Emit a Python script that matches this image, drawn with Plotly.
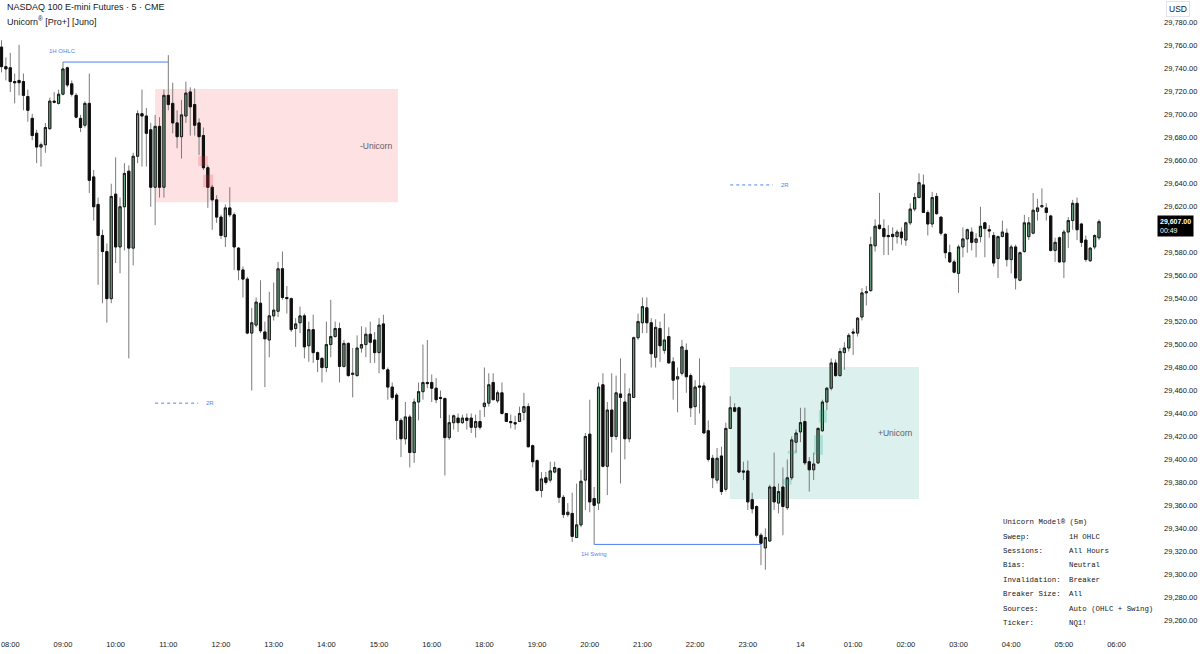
import plotly.graph_objects as go

# ---------------- data: 5-minute bars (index 0 = 07:50) ----------------
OPEN = [29759,29742,29741,29729,29730,29729,29716,29697,29684,29672,
        29674,29688,29712,29710,29718,29741,29727,29717,29697,29691,
        29710,29646,29622,29595,29581,29540,29631,29585,29620,29651,
        29584,29664,29701,29699,29687,29637,29690,29637,29717,29710,
        29693,29681,29699,29720,29709,29693,29682,29654,29637,29626,
        29611,29594,29619,29613,29584,29565,29557,29510,29517,29536,
        29511,29504,29525,29529,29566,29541,29540,29514,29519,29525,
        29499,29513,29493,29488,29480,29500,29507,29514,29481,29501,
        29474,29473,29497,29500,29509,29504,29493,29518,29478,29463,
        29456,29434,29418,29437,29406,29450,29459,29467,29467,29462,
        29454,29453,29419,29432,29436,29432,29436,29436,29428,29433,
        29446,29449,29467,29451,29458,29440,29433,29432,29433,29441,
        29446,29412,29399,29373,29384,29382,29389,29392,29367,29352,
        29353,29332,29343,29382,29422,29366,29362,29465,29394,29443,
        29420,29457,29450,29418,29454,29506,29519,29532,29519,29489,
        29514,29495,29507,29485,29470,29475,29495,29473,29446,29464,
        29464,29425,29401,29382,29403,29374,29427,29445,29445,29390,
        29390,29365,29359,29334,29323,29329,29376,29362,29376,29358,
        29384,29415,29424,29433,29398,29391,29397,29425,29450,29462,
        29484,29473,29493,29497,29511,29510,29524,29545,29547,29586,
        29604,29601,29595,29596,29594,29598,29591,29606,29618,29628,
        29639,29615,29605,29629,29611,29596,29580,29572,29562,29585,
        29592,29598,29589,29594,29606,29600,29595,29575,29594,29597,
        29574,29585,29556,29581,29594,29597,29616,29620,29619,29612,
        29582,29593,29572,29598,29608,29623,29605,29591,29573,29585,
        29593]
HIGH = [29765,29750,29754,29736,29761,29736,29722,29701,29687,29676,
        29693,29715,29720,29722,29746,29742,29730,29719,29700,29712,
        29736,29652,29628,29600,29588,29640,29663,29628,29658,29656,
        29667,29704,29722,29706,29693,29700,29698,29722,29752,29728,
        29704,29713,29729,29724,29723,29697,29689,29656,29639,29630,
        29613,29622,29637,29615,29585,29568,29559,29532,29541,29556,
        29520,29546,29554,29572,29581,29551,29541,29523,29533,29527,
        29520,29526,29494,29489,29520,29539,29520,29519,29504,29502,
        29497,29508,29516,29515,29520,29511,29523,29526,29480,29467,
        29458,29436,29450,29439,29453,29467,29500,29504,29474,29471,
        29460,29454,29439,29439,29440,29439,29440,29440,29439,29443,
        29480,29475,29475,29460,29467,29440,29439,29438,29446,29458,
        29449,29413,29400,29389,29389,29398,29398,29393,29369,29362,
        29371,29379,29391,29423,29452,29376,29467,29475,29450,29475,
        29473,29488,29475,29462,29507,29527,29541,29541,29523,29522,
        29520,29527,29515,29489,29480,29504,29501,29475,29469,29488,
        29467,29434,29404,29410,29411,29432,29455,29449,29446,29398,
        29399,29371,29360,29336,29340,29378,29406,29379,29393,29400,
        29420,29426,29445,29445,29402,29406,29428,29452,29463,29488,
        29487,29497,29502,29510,29514,29524,29549,29551,29594,29609,
        29632,29609,29604,29602,29600,29602,29607,29623,29632,29649,
        29648,29617,29633,29632,29611,29597,29587,29574,29587,29602,
        29601,29602,29597,29620,29607,29604,29598,29595,29608,29601,
        29587,29587,29581,29613,29611,29632,29627,29636,29623,29613,
        29593,29594,29600,29611,29626,29628,29606,29595,29585,29596,
        29609]
LOW = [29737,29730,29720,29710,29717,29704,29694,29678,29658,29655,
       29667,29687,29710,29709,29717,29724,29716,29697,29685,29689,
       29632,29608,29552,29536,29519,29536,29571,29562,29582,29488,
       29569,29658,29655,29655,29620,29604,29628,29628,29704,29684,
       29671,29662,29693,29682,29682,29665,29652,29619,29600,29606,
       29592,29585,29611,29565,29556,29541,29509,29460,29515,29510,
       29463,29489,29521,29524,29539,29527,29511,29498,29510,29488,
       29485,29484,29476,29467,29476,29489,29506,29467,29480,29472,
       29454,29472,29493,29489,29484,29484,29475,29478,29452,29452,
       29417,29402,29413,29393,29397,29434,29452,29462,29450,29449,
       29436,29386,29417,29426,29424,29431,29426,29423,29419,29426,
       29437,29446,29452,29449,29439,29433,29427,29426,29433,29434,
       29411,29393,29372,29367,29378,29380,29388,29362,29349,29350,
       29328,29332,29341,29356,29354,29326,29356,29393,29369,29406,
       29417,29379,29400,29415,29454,29504,29510,29510,29480,29480,
       29485,29492,29484,29452,29441,29473,29458,29437,29430,29440,
       29423,29398,29375,29379,29369,29372,29427,29441,29388,29382,
       29356,29353,29332,29308,29304,29328,29356,29353,29334,29356,
       29382,29406,29415,29395,29372,29382,29396,29424,29443,29460,
       29472,29472,29478,29494,29491,29507,29521,29534,29546,29581,
       29600,29578,29578,29582,29588,29587,29586,29604,29616,29628,
       29615,29595,29602,29613,29595,29575,29571,29562,29545,29576,
       29580,29582,29576,29589,29576,29593,29568,29558,29594,29568,
       29562,29548,29555,29580,29591,29596,29608,29619,29608,29581,
       29572,29571,29558,29584,29600,29591,29585,29572,29572,29583,
       29591]
CLOSE = [29742,29740,29729,29728,29728,29717,29704,29682,29672,29674,
         29689,29712,29711,29718,29740,29726,29718,29698,29689,29710,
         29643,29620,29595,29581,29540,29629,29585,29620,29649,29584,
         29664,29701,29699,29684,29637,29690,29637,29717,29709,29693,
         29681,29700,29719,29707,29691,29681,29654,29637,29626,29611,
         29595,29619,29613,29585,29565,29557,29510,29519,29537,29512,
         29505,29525,29530,29566,29541,29540,29513,29518,29525,29498,
         29513,29493,29487,29480,29500,29507,29514,29481,29501,29473,
         29475,29497,29500,29509,29502,29493,29517,29479,29463,29454,
         29434,29418,29437,29406,29450,29459,29467,29466,29462,29452,
         29453,29419,29432,29438,29432,29436,29434,29428,29433,29428,
         29449,29465,29452,29458,29440,29433,29432,29431,29440,29446,
         29411,29398,29373,29383,29380,29390,29393,29367,29352,29354,
         29333,29343,29381,29420,29363,29360,29463,29394,29443,29420,
         29458,29454,29418,29457,29506,29520,29533,29519,29492,29515,
         29499,29504,29484,29469,29472,29498,29472,29445,29463,29463,
         29423,29400,29384,29401,29372,29427,29445,29442,29389,29389,
         29363,29357,29334,29327,29332,29376,29363,29372,29359,29384,
         29417,29423,29432,29397,29391,29396,29427,29450,29462,29484,
         29473,29494,29497,29508,29510,29523,29545,29546,29587,29603,
         29601,29594,29594,29594,29598,29593,29606,29618,29628,29641,
         29615,29605,29628,29614,29597,29580,29572,29563,29585,29592,
         29600,29589,29592,29603,29601,29599,29571,29594,29598,29574,
         29585,29558,29580,29606,29606,29617,29619,29621,29615,29582,
         29589,29572,29598,29608,29623,29600,29589,29574,29584,29595,
         29607]

# time axis labels (bar index -> label); 17:00 is the daily maintenance break
TICK_BARS = [2, 14, 26, 38, 50, 62, 74, 86, 98, 110, 122, 134, 146, 158, 170,
             182, 194, 206, 218, 230, 242, 254]
TICK_TEXT = ["08:00", "09:00", "10:00", "11:00", "12:00", "13:00", "14:00",
             "15:00", "16:00", "18:00", "19:00", "20:00", "21:00", "22:00",
             "23:00", "14", "01:00", "02:00", "03:00", "04:00", "05:00", "06:00"]
PRICE_TICKS = [29260 + 20 * k for k in range(27) if 29260 + 20 * k != 29600]

# indicator objects (bar index ranges and price levels)
BEAR_ZONE = dict(x0=35, x1=90.3, top=29722.5, bottom=29624, label="-Unicorn")
BULL_ZONE = dict(x0=165.9, x1=209, top=29480.5, bottom=29365.5, label="+Unicorn")
BEAR_FVG = [(44.8, 47.0, 29655.5, 29664), (45.9, 48.2, 29637, 29648)]
BULL_FVG = [(185.1, 187.1, 29404, 29421), (186.2, 188.0, 29432, 29443),
            (179.1, 181.2, 29405, 29407.5), (178.0, 180.0, 29378, 29383)]
SWEEP_LEVELS = [dict(x0=14, x1=38, price=29746, label="1H OHLC", pos="above"),
                dict(x0=135, x1=173, price=29326, label="1H Swing", pos="below")]
TARGET_2R = [(35, 44.8, 29449), (166, 175.7, 29639)]
LAST_TIME = "00:49"

TABLE_TITLE = "Unicorn Model® (5m)"
TABLE_KEYS = ["Sweep:", "Sessions:", "Bias:", "Invalidation:", "Breaker Size:",
              "Sources:", "Ticker:"]
TABLE_VALS = ["1H OHLC", "All Hours", "Neutral", "Breaker", "All",
              "Auto (OHLC + Swing)", "NQ1!"]

# ---------------- layout geometry ----------------
W, H = 1200, 654
ML, MR, MT, MB = 0, 45, 0, 22
PW, PH = W - ML - MR, H - MT - MB
BAR_PX = 4.39
X0_PX = 1.5
X_LO = -X0_PX / BAR_PX
X_HI = X_LO + PW / BAR_PX
PX_PER_PT = 1.1485
Y_HI = 29780 + 23 / PX_PER_PT
Y_LO = Y_HI - PH / PX_PER_PT


def px(x):
    return x / PW


def py(y):
    return 1 - y / PH


def price_to_paper(p):
    return (p - Y_LO) / (Y_HI - Y_LO)


xs = list(range(len(CLOSE)))
TEXT = "#131722"
BLUE = "#4f7ff7"
GREEN = "#6ba67f"

fig = go.Figure()
# wicks
fig.add_trace(go.Candlestick(
    x=xs, open=OPEN, high=HIGH, low=LOW, close=CLOSE,
    increasing=dict(line=dict(color="#7b7b7b", width=1), fillcolor="#7b7b7b"),
    decreasing=dict(line=dict(color="#7b7b7b", width=1), fillcolor="#7b7b7b"),
    hoverinfo="skip", showlegend=False))
# bodies
fig.add_trace(go.Candlestick(
    x=xs, open=OPEN, close=CLOSE,
    high=[max(o, c) for o, c in zip(OPEN, CLOSE)],
    low=[min(o, c) for o, c in zip(OPEN, CLOSE)],
    increasing=dict(line=dict(color="#1b1b1b", width=1), fillcolor=GREEN),
    decreasing=dict(line=dict(color="#111111", width=1), fillcolor="#0d0d0d"),
    hoverinfo="skip", showlegend=False))

shapes = []
annotations = []

# zones
for zone, col in ((BEAR_ZONE, "rgba(242,54,69,0.15)"), (BULL_ZONE, "rgba(8,153,129,0.14)")):
    shapes.append(dict(type="rect", xref="x", yref="y", x0=zone["x0"], x1=zone["x1"],
                       y0=zone["bottom"], y1=zone["top"], fillcolor=col,
                       line=dict(width=0), layer="below"))
    annotations.append(dict(xref="x", yref="y", x=zone["x1"], y=(zone["top"] + zone["bottom"]) / 2,
                            text=zone["label"], showarrow=False, xanchor="right", xshift=-4,
                            font=dict(size=8.5, color="#5d606b", family="Liberation Sans")))
for x0, x1, b, t in BEAR_FVG:
    shapes.append(dict(type="rect", xref="x", yref="y", x0=x0, x1=x1, y0=b, y1=t,
                       fillcolor="rgba(242,54,69,0.22)", line=dict(width=0), layer="above"))
for x0, x1, b, t in BULL_FVG:
    shapes.append(dict(type="rect", xref="x", yref="y", x0=x0, x1=x1, y0=b, y1=t,
                       fillcolor="rgba(8,153,129,0.22)", line=dict(width=0), layer="above"))

# sweep levels
for lv in SWEEP_LEVELS:
    shapes.append(dict(type="line", xref="x", yref="y", x0=lv["x0"], x1=lv["x1"],
                       y0=lv["price"], y1=lv["price"], line=dict(color=BLUE, width=1)))
    annotations.append(dict(xref="x", yref="y", x=lv["x0"], y=lv["price"], text=lv["label"],
                            showarrow=False, xanchor="center",
                            yanchor="bottom" if lv["pos"] == "above" else "top",
                            yshift=6 if lv["pos"] == "above" else -5,
                            font=dict(size=6, color=BLUE, family="Liberation Sans")))

# 2R targets
for x0, x1, p in TARGET_2R:
    shapes.append(dict(type="line", xref="x", yref="y", x0=x0, x1=x1, y0=p, y1=p,
                       line=dict(color=BLUE, width=1, dash="dot")))
    annotations.append(dict(xref="x", yref="y", x=x1, y=p, text="2R", showarrow=False,
                            xanchor="left", xshift=6,
                            font=dict(size=6, color=BLUE, family="Liberation Sans")))

# price scale labels (placed from the y scale mapping)
for p in PRICE_TICKS:
    annotations.append(dict(xref="paper", yref="paper", x=px(1162), y=price_to_paper(p),
                            text=f"{p:,.2f}", showarrow=False, xanchor="left", yanchor="middle",
                            font=dict(size=7.5, color=TEXT, family="Liberation Sans")))

# title
annotations.append(dict(xref="paper", yref="paper", x=px(5), y=py(7), text="NASDAQ 100 E-mini Futures · 5 · CME",
                        showarrow=False, xanchor="left", yanchor="middle",
                        font=dict(size=9, color=TEXT, family="Liberation Sans")))
annotations.append(dict(xref="paper", yref="paper", x=px(5), y=py(21), text="Unicorn<sup>®</sup> [Pro+] [Juno]",
                        showarrow=False, xanchor="left", yanchor="middle",
                        font=dict(size=9, color=TEXT, family="Liberation Sans")))

# info table
MONO = dict(size=7.4, color=TEXT, family="Liberation Mono")
annotations.append(dict(xref="paper", yref="paper", x=px(1001), y=py(522), text=TABLE_TITLE,
                        showarrow=False, xanchor="left", yanchor="middle", font=MONO))
for k, (key, val) in enumerate(zip(TABLE_KEYS, TABLE_VALS)):
    yy = py(536.5 + 14.4 * k)
    annotations.append(dict(xref="paper", yref="paper", x=px(1001), y=yy, text=key,
                            showarrow=False, xanchor="left", yanchor="middle", font=MONO))
    annotations.append(dict(xref="paper", yref="paper", x=px(1067), y=yy, text=val,
                            showarrow=False, xanchor="left", yanchor="middle", font=MONO))

# currency box
annotations.append(dict(xref="paper", yref="paper", x=px(1178), y=py(9), text="USD",
                        showarrow=False, xanchor="center", yanchor="middle",
                        bordercolor="#e0e3eb", borderwidth=1, borderpad=2,
                        font=dict(size=8.5, color=TEXT, family="Liberation Sans")))
# last price label
annotations.append(dict(xref="paper", yref="y", x=px(1157), y=CLOSE[-1],
                        text=f"<b>{CLOSE[-1]:,.2f}</b><br>{LAST_TIME}",
                        showarrow=False, xanchor="left", yanchor="middle", yshift=-4,
                        align="left", bgcolor="#000000", borderpad=2,
                        font=dict(size=7, color="white", family="Liberation Sans")))

fig.update_layout(
    width=W, height=H, autosize=False,
    margin=dict(l=ML, r=MR, t=MT, b=MB),
    paper_bgcolor="white", plot_bgcolor="white",
    showlegend=False, shapes=shapes, annotations=annotations,
    xaxis=dict(range=[X_LO, X_HI], tickmode="array", tickvals=TICK_BARS, ticktext=TICK_TEXT,
               showgrid=False, zeroline=False, showline=False, ticks="",
               ticklabelstandoff=6,
               rangeslider=dict(visible=False), fixedrange=True,
               tickfont=dict(size=7.5, color=TEXT, family="Liberation Sans")),
    yaxis=dict(range=[Y_LO, Y_HI], side="right", tickmode="array", tickvals=PRICE_TICKS,
               showticklabels=False, showgrid=False, zeroline=False, showline=False,
               ticks="", fixedrange=True),
)

fig.write_html("out.html", config=dict(displayModeBar=False))
